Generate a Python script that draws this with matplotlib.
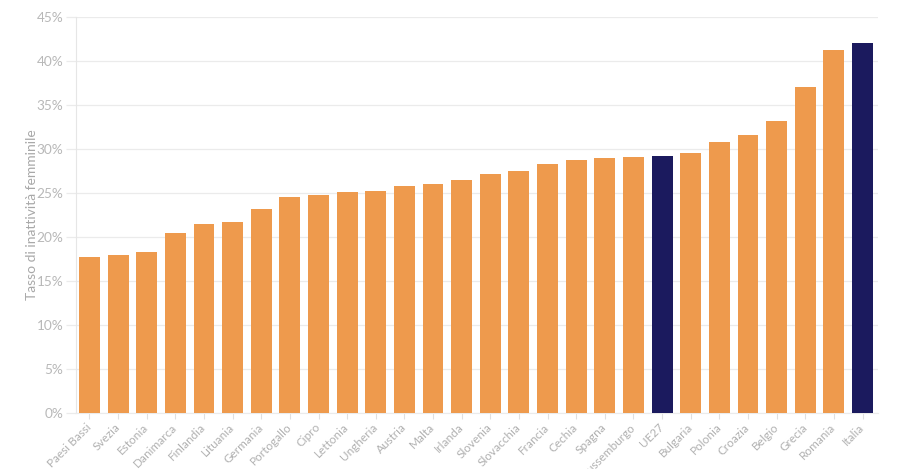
import matplotlib
matplotlib.use("Agg")
import matplotlib.pyplot as plt
from matplotlib.ticker import FuncFormatter, MultipleLocator

countries = ["Paesi Bassi", "Svezia", "Estonia", "Danimarca", "Finlandia", "Lituania",
             "Germania", "Portogallo", "Cipro", "Lettonia", "Ungheria", "Austria", "Malta",
             "Irlanda", "Slovenia", "Slovacchia", "Francia", "Cechia", "Spagna",
             "Lussemburgo", "UE27", "Bulgaria", "Polonia", "Croazia", "Belgio", "Grecia",
             "Romania", "Italia"]
values = [17.7, 17.95, 18.3, 20.4, 21.5, 21.7, 23.2, 24.6, 24.8, 25.1, 25.2, 25.8, 26.0,
          26.5, 27.2, 27.5, 28.3, 28.7, 29.0, 29.1, 29.2, 29.6, 30.8, 31.6, 33.2, 37.0,
          41.3, 42.0]
highlight = ["UE27", "Italia"]

plt.rcParams['font.family'] = ['Lato', 'DejaVu Sans']
fig = plt.figure(figsize=(9, 4.69), dpi=100)
ax = fig.add_axes([0.0844, 0.1194, 0.8912, 0.8444])

colors = ["#1B1A5E" if c in highlight else "#EE9A4D" for c in countries]
x = list(range(len(countries)))
ax.bar(x, values, width=0.73, color=colors, zorder=3)

ax.set_xlim(-0.47, len(countries) - 0.46)
ax.set_ylim(0, 45)
ax.yaxis.set_major_locator(MultipleLocator(5))
ax.yaxis.set_major_formatter(FuncFormatter(lambda v, p: f"{int(v)}%"))
ax.grid(axis="y", color="#EBEBEB", linewidth=0.9, zorder=0)
ax.set_axisbelow(True)

for s in ["top", "right"]:
    ax.spines[s].set_visible(False)
ax.spines["left"].set_color("#E6E6E6")
ax.spines["bottom"].set_color("#EBEBEB")

ax.set_xticks(x)
ax.set_xticklabels(countries, rotation=45, ha="right", va="center", rotation_mode="anchor",
                   fontsize=8.5, color="#B0B0B0")
ax.tick_params(axis="x", length=4, color="#E0E0E0", pad=5)
ax.tick_params(axis="y", length=7, width=0.9, color="#EBEBEB", labelsize=9.8,
               labelcolor="#B8B8B8", pad=2)
ax.set_ylabel("Tasso di inattività femminile", fontsize=10, color="#A8A8A8")
ax.yaxis.set_label_coords(-0.047, 0.5)

fig.savefig("out.png", dpi=100)
